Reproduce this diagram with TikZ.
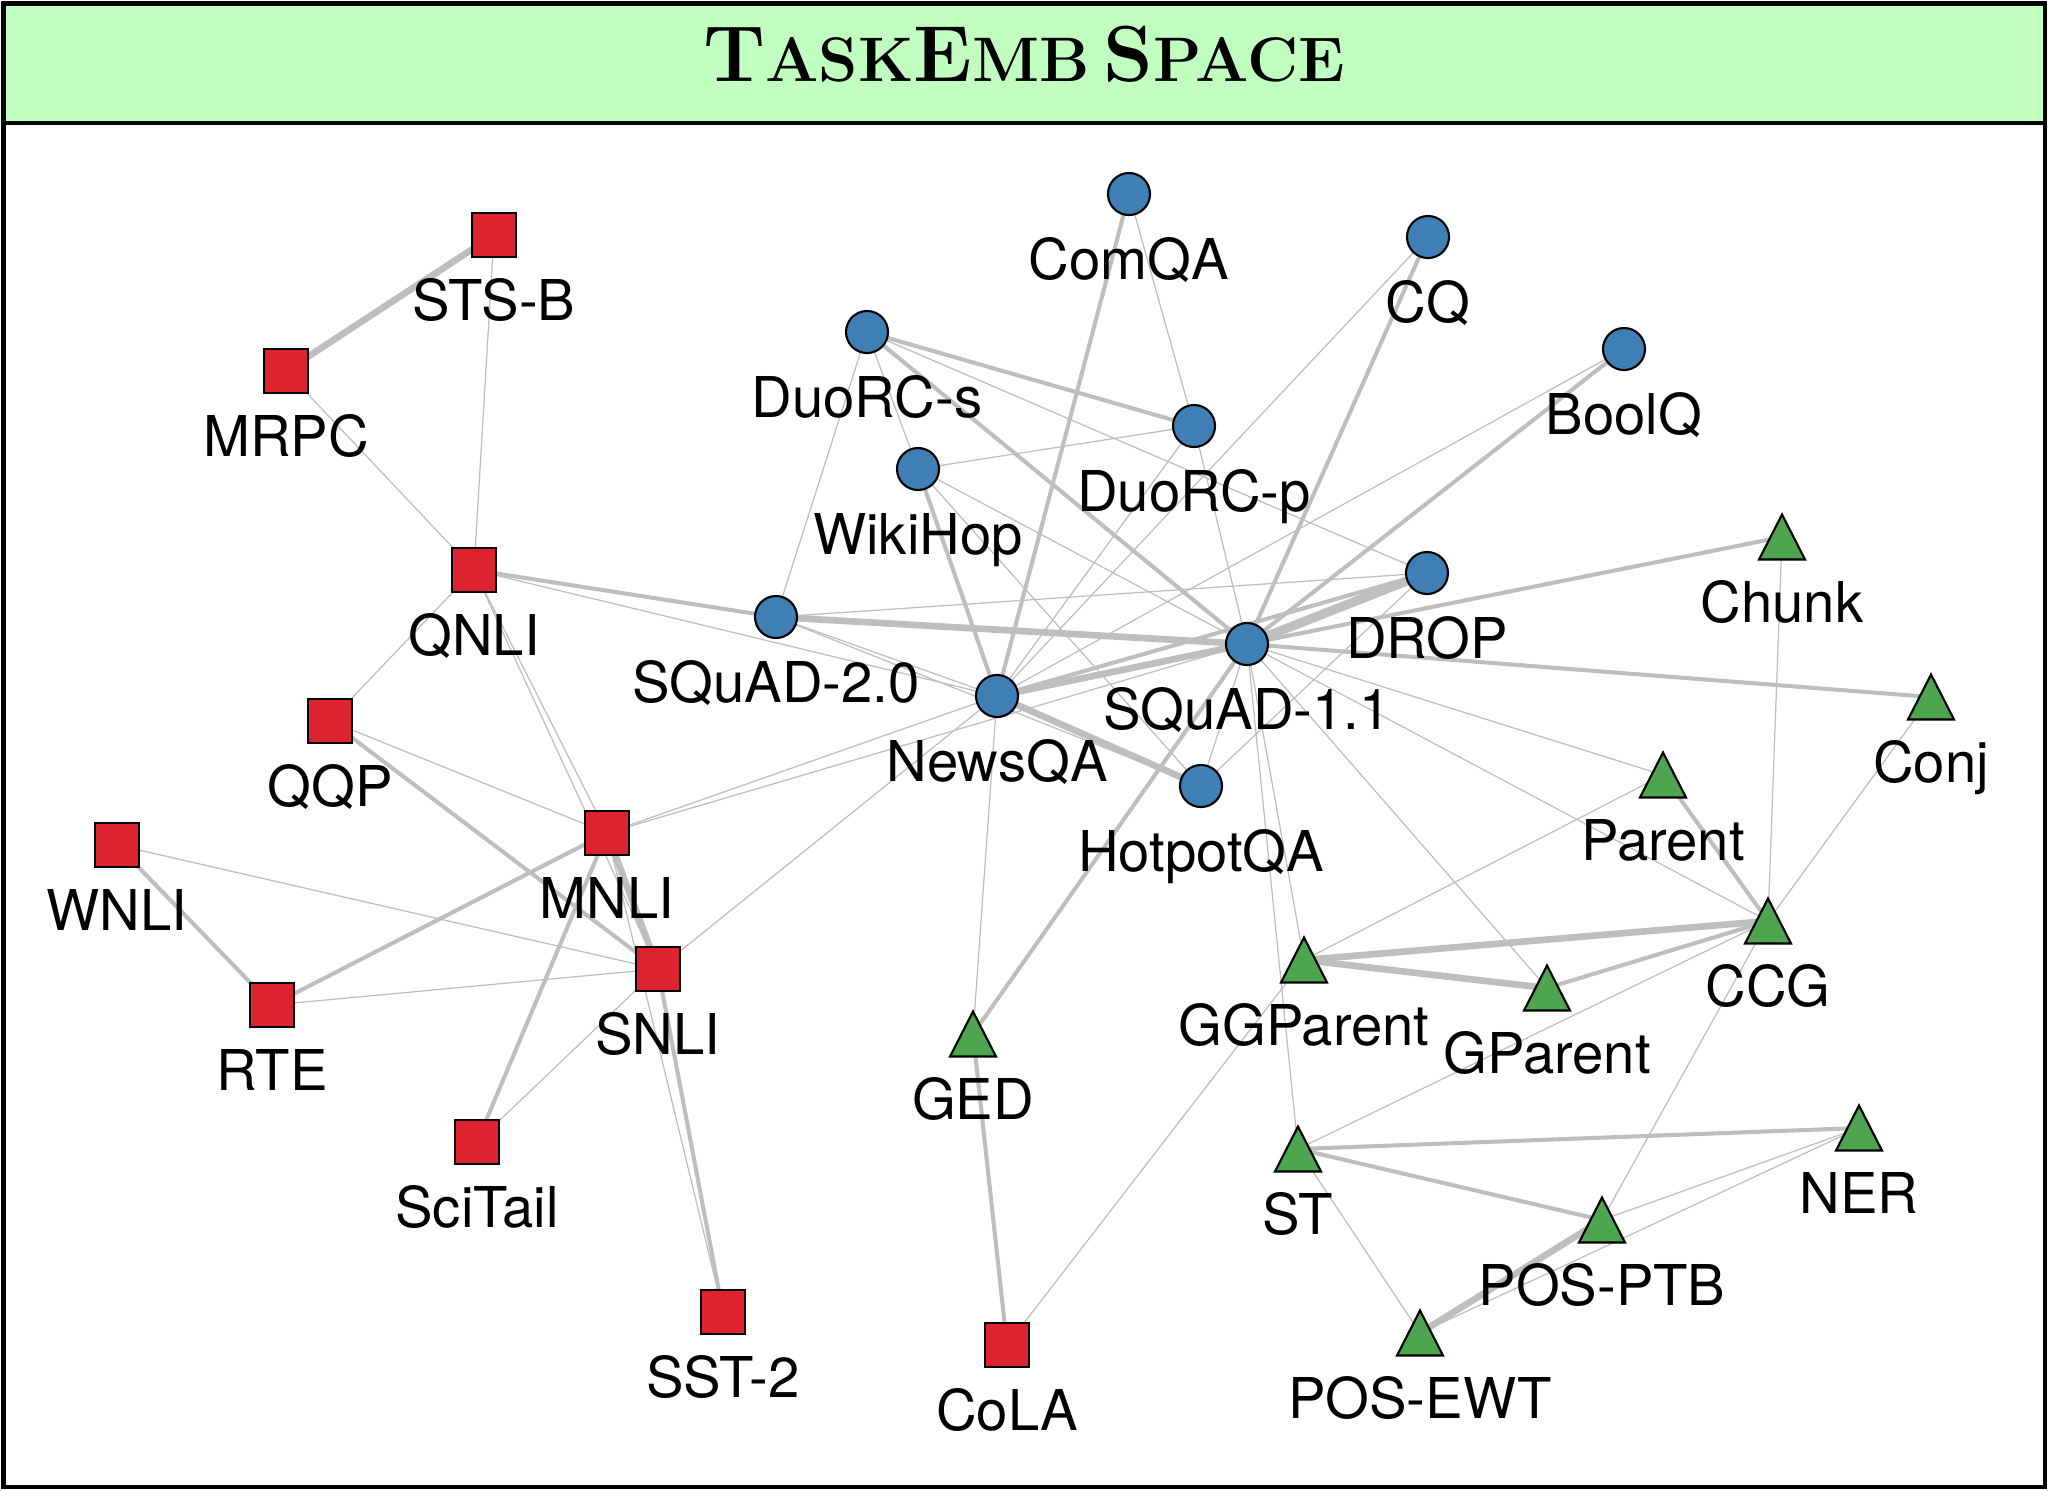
\documentclass[tikz,border=0pt]{standalone}
\usepackage{fontspec}
\newfontfamily\labfont{TeX Gyre Heros}
\definecolor{hdr}{RGB}{192,255,192}
\definecolor{nred}{RGB}{221,34,48}
\definecolor{nblue}{RGB}{64,127,181}
\definecolor{ngreen}{RGB}{78,164,79}
\definecolor{egray}{RGB}{190,190,190}
\pgfdeclarelayer{bglayer}
\pgfdeclarelayer{edgelayer}
\pgfsetlayers{bglayer,edgelayer,main}
\newcommand\capA[1]{{\fontsize{22.6}{26}\selectfont #1}}
\newcommand\capB[1]{{\fontsize{17.9}{21}\selectfont #1}}
\tikzset{
  sq/.style={rectangle, draw=black, fill=nred, line width=0.6pt, minimum size=0.44cm, inner sep=0pt},
  ci/.style={circle, draw=black, fill=nblue, line width=0.6pt, minimum size=0.42cm, inner sep=0pt},
  tr/.style={circle, draw=none, fill=none, minimum size=0.3cm, inner sep=0pt},
  trishape/.style={draw=black, fill=ngreen, line width=0.6pt, line join=miter},
  lab/.style={anchor=base, inner sep=0pt, font=\labfont\fontsize{16}{19}\selectfont},
  ethin/.style={draw=egray, line width=0.35pt},
  emed/.style={draw=egray, line width=1.15pt},
  ethick/.style={draw=egray, line width=1.9pt},
  evthick/.style={draw=egray, line width=2.6pt},
}
\newcommand\trimark[1]{\draw[trishape] (#1.center) +(0,-22.5) -- +(23,22.5) -- +(-23,22.5) -- cycle;}
\begin{document}
\begin{tikzpicture}[x=0.01cm,y=-0.01cm]
\useasboundingbox (0,0) rectangle (2048,1490);
% frame and header
\begin{pgfonlayer}{bglayer}
\fill[white] (0,0) rectangle (2048,1490);
\draw[line width=1.15pt] (3.5,3.5) rectangle (2044.5,1487);
\draw[line width=1.15pt, fill=hdr] (3.5,3.5) rectangle (2044.5,123);
\end{pgfonlayer}
\node[anchor=base, inner sep=0pt, font=\bfseries] (title) at (1024,81)
  {\capA{T}\capB{ASK}\capA{E}\capB{MB} \capA{S}\capB{PACE}};

% red nodes
\node[sq] (STSB) at (494,235) {};
\node[sq] (MRPC) at (286,371) {};
\node[sq] (QNLI) at (474,570) {};
\node[sq] (QQP) at (330,721) {};
\node[sq] (MNLI) at (607,833) {};
\node[sq] (WNLI) at (117,845) {};
\node[sq] (RTE) at (272,1005) {};
\node[sq] (SNLI) at (658,969) {};
\node[sq] (SciTail) at (477,1142) {};
\node[sq] (SST) at (723,1312) {};
\node[sq] (CoLA) at (1007,1345) {};
% blue nodes
\node[ci] (ComQA) at (1129,194) {};
\node[ci] (CQ) at (1428,237) {};
\node[ci] (DuoRCs) at (867,332) {};
\node[ci] (BoolQ) at (1624,349) {};
\node[ci] (DuoRCp) at (1194,426) {};
\node[ci] (WikiHop) at (918,469) {};
\node[ci] (DROP) at (1427,573) {};
\node[ci] (SQuADtwo) at (776,617) {};
\node[ci] (SQuADone) at (1247,644) {};
\node[ci] (NewsQA) at (997,696) {};
\node[ci] (HotpotQA) at (1201,786) {};
% green nodes (triangles drawn below)
\node[tr] (Chunk) at (1782,537) {};
\node[tr] (Conj) at (1931,697) {};
\node[tr] (Parent) at (1663,775) {};
\node[tr] (CCG) at (1768,921) {};
\node[tr] (GGParent) at (1304,960) {};
\node[tr] (GParent) at (1547,988) {};
\node[tr] (GED) at (973,1034) {};
\node[tr] (ST) at (1298,1149) {};
\node[tr] (NER) at (1859,1128) {};
\node[tr] (POSPTB) at (1602,1220) {};
\node[tr] (POSEWT) at (1420,1333) {};
\foreach \n in {Chunk,Conj,Parent,CCG,GGParent,GParent,GED,ST,NER,POSPTB,POSEWT}{\trimark{\n}}

% edges
\begin{pgfonlayer}{edgelayer}
% red cluster
\draw[ethick] (STSB.center) -- (MRPC.center);
\draw[ethin] (STSB.center) -- (QNLI.center);
\draw[ethin] (MRPC.center) -- (QNLI.center);
\draw[ethin] (QNLI.center) -- (QQP.center);
\draw[emed] (QNLI.center) -- (SQuADtwo.center);
\draw[ethin] (QNLI.center) -- (NewsQA.center);
\draw[ethin] (QNLI.center) -- (MNLI.center);
\draw[ethin] (QNLI.center) -- (SNLI.center);
\draw[ethin] (QQP.center) -- (MNLI.center);
\draw[emed] (QQP.center) -- (SNLI.center);
\draw[emed] (WNLI.center) -- (RTE.center);
\draw[ethin] (WNLI.center) -- (SNLI.center);
\draw[emed] (RTE.center) -- (MNLI.center);
\draw[ethin] (RTE.center) -- (SNLI.center);
\draw[ethick] (MNLI.center) -- (SNLI.center);
\draw[emed] (SNLI.center) -- (SST.center);
\draw[ethin] (MNLI.center) -- (SST.center);
\draw[emed] (MNLI.center) -- (SciTail.center);
\draw[ethin] (SciTail.center) -- (SNLI.center);
\draw[ethin] (MNLI.center) -- (NewsQA.center);
\draw[ethin] (MNLI.center) -- (SQuADone.center);
\draw[ethin] (SNLI.center) -- (NewsQA.center);
\draw[emed] (GED.center) -- (CoLA.center);
\draw[ethin] (CoLA.center) -- (GGParent.center);
\draw[emed] (GED.center) -- (SQuADone.center);
\draw[ethin] (GED.center) -- (NewsQA.center);
% blue cluster
\draw[emed] (ComQA.center) -- (NewsQA.center);
\draw[ethin] (ComQA.center) -- (DuoRCp.center);
\draw[ethin] (DuoRCp.center) -- (SQuADone.center);
\draw[emed] (CQ.center) -- (SQuADone.center);
\draw[ethin] (CQ.center) -- (NewsQA.center);
\draw[emed] (BoolQ.center) -- (SQuADone.center);
\draw[ethin] (BoolQ.center) -- (NewsQA.center);
\draw[emed] (DuoRCs.center) -- (DuoRCp.center);
\draw[emed] (DuoRCs.center) -- (SQuADone.center);
\draw[ethin] (DuoRCs.center) -- (DROP.center);
\draw[ethin] (DuoRCs.center) -- (WikiHop.center);
\draw[ethin] (DuoRCs.center) -- (SQuADtwo.center);
\draw[emed] (WikiHop.center) -- (NewsQA.center);
\draw[ethin] (WikiHop.center) -- (DuoRCp.center);
\draw[ethin] (WikiHop.center) -- (SQuADone.center);
\draw[ethin] (WikiHop.center) -- (HotpotQA.center);
\draw[ethick] (SQuADtwo.center) -- (SQuADone.center);
\draw[ethin] (SQuADtwo.center) -- (DROP.center);
\draw[ethin] (SQuADtwo.center) -- (NewsQA.center);
\draw[ethin] (SQuADtwo.center) -- (HotpotQA.center);
\draw[ethick] (NewsQA.center) -- (SQuADone.center);
\draw[ethick] (NewsQA.center) -- (HotpotQA.center);
\draw[emed] (NewsQA.center) -- (DROP.center);
\draw[ethin] (NewsQA.center) -- (DuoRCp.center);
\draw[evthick] (SQuADone.center) -- (DROP.center);
\draw[emed] (SQuADone.center) -- (Chunk.center);
\draw[emed] (SQuADone.center) -- (Conj.center);
\draw[ethin] (SQuADone.center) -- (HotpotQA.center);
\draw[ethin] (SQuADone.center) -- (Parent.center);
\draw[ethin] (SQuADone.center) -- (CCG.center);
\draw[ethin] (SQuADone.center) -- (GParent.center);
\draw[ethin] (SQuADone.center) -- (GGParent.center);
\draw[ethin] (SQuADone.center) -- (ST.center);
\draw[ethin] (HotpotQA.center) -- (DROP.center);
% green cluster
\draw[ethin] (Chunk.center) -- (CCG.center);
\draw[ethin] (Conj.center) -- (CCG.center);
\draw[emed] (Parent.center) -- (CCG.center);
\draw[ethin] (Parent.center) -- (GGParent.center);
\draw[ethick] (CCG.center) -- (GGParent.center);
\draw[ethick] (GGParent.center) -- (GParent.center);
\draw[emed] (CCG.center) -- (GParent.center);
\draw[ethin] (CCG.center) -- (ST.center);
\draw[ethin] (CCG.center) -- (POSPTB.center);
\draw[emed] (ST.center) -- (NER.center);
\draw[emed] (ST.center) -- (POSPTB.center);
\draw[ethin] (ST.center) -- (POSEWT.center);
\draw[ethick] (POSEWT.center) -- (POSPTB.center);
\draw[ethin] (POSEWT.center) -- (NER.center);
\draw[ethin] (POSPTB.center) -- (NER.center);
\end{pgfonlayer}

% labels
\node[lab] (lSTSB) at (494,320) {STS-B};
\node[lab] (lMRPC) at (286,456) {MRPC};
\node[lab] (lQNLI) at (474,655) {QNLI};
\node[lab] (lQQP) at (330,806) {QQP};
\node[lab] (lMNLI) at (607,918) {MNLI};
\node[lab] (lWNLI) at (117,930) {WNLI};
\node[lab] (lRTE) at (272,1090) {RTE};
\node[lab] (lSNLI) at (658,1054) {SNLI};
\node[lab] (lSciTail) at (477,1227) {SciTail};
\node[lab] (lSST) at (723,1397) {SST-2};
\node[lab] (lCoLA) at (1007,1430) {CoLA};
\node[lab] (lComQA) at (1129,279) {ComQA};
\node[lab] (lCQ) at (1428,322) {CQ};
\node[lab] (lDuoRCs) at (867,417) {DuoRC-s};
\node[lab] (lBoolQ) at (1624,434) {BoolQ};
\node[lab] (lDuoRCp) at (1194,511) {DuoRC-p};
\node[lab] (lWikiHop) at (918,554) {WikiHop};
\node[lab] (lDROP) at (1427,658) {DROP};
\node[lab] (lSQuADtwo) at (776,702) {SQuAD-2.0};
\node[lab] (lSQuADone) at (1247,729) {SQuAD-1.1};
\node[lab] (lNewsQA) at (997,781) {NewsQA};
\node[lab] (lHotpotQA) at (1201,871) {HotpotQA};
\node[lab] (lChunk) at (1782,622) {Chunk};
\node[lab] (lConj) at (1931,782) {Conj};
\node[lab] (lParent) at (1663,860) {Parent};
\node[lab] (lCCG) at (1768,1006) {CCG};
\node[lab] (lGGParent) at (1304,1045) {GGParent};
\node[lab] (lGParent) at (1547,1073) {GParent};
\node[lab] (lGED) at (973,1119) {GED};
\node[lab] (lST) at (1298,1234) {ST};
\node[lab] (lNER) at (1859,1213) {NER};
\node[lab] (lPOSPTB) at (1602,1305) {POS-PTB};
\node[lab] (lPOSEWT) at (1420,1418) {POS-EWT};
\end{tikzpicture}
\end{document}
